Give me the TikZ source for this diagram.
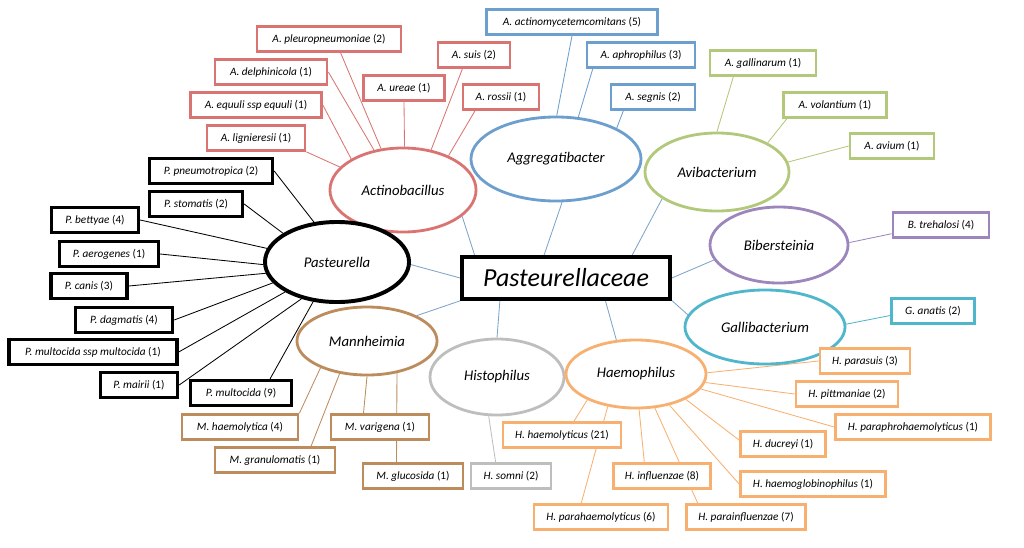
\documentclass[tikz,border=0pt]{standalone}
\usepackage{fontspec}
\setmainfont{Carlito}
\usepackage{tikz}
\usetikzlibrary{shapes.geometric, positioning, calc, backgrounds}

\definecolor{actcol}{RGB}{218,116,114}
\definecolor{aggcol}{RGB}{108,158,206}
\definecolor{avicol}{RGB}{178,200,122}
\definecolor{bibcol}{RGB}{156,134,188}
\definecolor{galcol}{RGB}{80,182,204}
\definecolor{haecol}{RGB}{248,176,112}
\definecolor{hiscol}{RGB}{190,190,190}
\definecolor{mancol}{RGB}{188,140,92}
\definecolor{linkcol}{RGB}{126,164,204}

\begin{document}
\begin{tikzpicture}[
        x=0.025cm, y=-0.025cm,
        wd/.style={minimum width=#1*0.025cm},
        rad/.style 2 args={minimum width=#1*0.05cm, minimum height=#2*0.05cm},
        leaf/.style={rectangle, fill=white, line width=1.9pt, minimum height=0.625cm, inner sep=0pt, font=\fontsize{8}{9}\selectfont},
        genus/.style={ellipse, fill=white, line width=2pt, inner sep=0pt, font=\fontsize{10.5}{12}\selectfont\itshape},
        central/.style={rectangle, draw=black, fill=white, line width=2.5pt, minimum width=5.2cm, minimum height=1.05cm, inner sep=0pt, font=\fontsize{18.5}{20}\selectfont\itshape},
        actleaf/.style={leaf, draw=actcol},
        aggleaf/.style={leaf, draw=aggcol},
        avileaf/.style={leaf, draw=avicol},
        bibleaf/.style={leaf, draw=bibcol},
        galleaf/.style={leaf, draw=galcol},
        haeleaf/.style={leaf, draw=haecol},
        hisleaf/.style={leaf, draw=hiscol},
        manleaf/.style={leaf, draw=mancol},
        pasleaf/.style={leaf, draw=black, line width=2.4pt},
        link/.style={line width=0.6pt}
    ]
    \useasboundingbox (0,0) rectangle (1024,547);

    % 1. Family in the middle
    \node[central] (pac) at (566,278) {Pasteurellaceae};

    % 2. Genera (ellipses)
    \node[genus, draw=actcol, rad={73}{42}] (actino) at (403,190) {Actinobacillus};
    \node[genus, draw=aggcol, rad={85}{42}] (aggreg) at (556,159) {Aggregatibacter};
    \node[genus, draw=avicol, rad={72}{39}] (avib) at (717,172) {Avibacterium};
    \node[genus, draw=black, line width=2.8pt, rad={72}{40}] (past) at (337,262) {Pasteurella};
    \node[genus, draw=mancol, rad={70}{34}] (mann) at (367,341) {Mannheimia};
    \node[genus, draw=hiscol, rad={67}{38}] (hist) at (497,377) {Histophilus};
    \node[genus, draw=haecol, rad={70}{34}] (haem) at (636,374) {Haemophilus};
    \node[genus, draw=galcol, rad={80}{37}] (gall) at (765,327) {Gallibacterium};
    \node[genus, draw=bibcol, rad={69}{38}] (bibe) at (779,245) {Bibersteinia};

    % 3. Species (boxes)
    \node[actleaf, wd=144] (apleuro) at (329,39) {\textit{A. pleuropneumoniae} (2)};
    \node[actleaf, wd=112] (adelph) at (271,72) {\textit{A. delphinicola} (1)};
    \node[actleaf, wd=131] (aequuli) at (256,105) {\textit{A. equuli ssp equuli} (1)};
    \node[actleaf, wd=98] (aligni) at (256,138) {\textit{A. lignieresii} (1)};
    \node[actleaf, wd=81] (aureae) at (404,88) {\textit{A. ureae} (1)};
    \node[actleaf, wd=72] (asuis) at (474,55) {\textit{A. suis} (2)};
    \node[actleaf, wd=76] (arossii) at (501,97) {\textit{A. rossii} (1)};

    \node[aggleaf, wd=171] (aactino) at (572,22) {\textit{A. actinomycetemcomitans} (5)};
    \node[aggleaf, wd=108] (aaphro) at (641,55) {\textit{A. aphrophilus} (3)};
    \node[aggleaf, wd=84] (asegnis) at (653,97) {\textit{A. segnis} (2)};

    \node[avileaf, wd=106] (agallin) at (763,63) {\textit{A. gallinarum} (1)};
    \node[avileaf, wd=103] (avolant) at (835,105) {\textit{A. volantium} (1)};
    \node[avileaf, wd=84] (aavium) at (892,146) {\textit{A. avium} (1)};

    \node[bibleaf, wd=96] (btreh) at (941,225) {\textit{B. trehalosi} (4)};
    \node[galleaf, wd=83] (ganatis) at (933,311) {\textit{G. anatis} (2)};

    \node[pasleaf, wd=123] (ppneumo) at (211,171) {\textit{P. pneumotropica} (2)};
    \node[pasleaf, wd=93] (pstoma) at (196,204) {\textit{P. stomatis} (2)};
    \node[pasleaf, wd=87] (pbetty) at (95,220) {\textit{P. bettyae} (4)};
    \node[pasleaf, wd=99] (paerog) at (109,254) {\textit{P. aerogenes} (1)};
    \node[pasleaf, wd=76] (pcanis) at (89,286) {\textit{P. canis} (3)};
    \node[pasleaf, wd=97] (pdagma) at (124,320) {\textit{P. dagmatis} (4)};
    \node[pasleaf, wd=168] (pmultssp) at (93,352) {\textit{P. multocida ssp multocida} (1)};
    \node[pasleaf, wd=77] (pmairii) at (139,385) {\textit{P. mairii} (1)};
    \node[pasleaf, wd=101] (pmulto) at (241,393) {\textit{P. multocida} (9)};

    \node[manleaf, wd=116] (mhaemo) at (240,427) {\textit{M. haemolytica} (4)};
    \node[manleaf, wd=120] (mgranu) at (275,460) {\textit{M. granulomatis} (1)};
    \node[manleaf, wd=98] (mvarig) at (380,427) {\textit{M. varigena} (1)};
    \node[manleaf, wd=100] (mgluco) at (413,476) {\textit{M. glucosida} (1)};

    \node[hisleaf, wd=80] (hsomni) at (511,476) {\textit{H. somni} (2)};

    \node[haeleaf, wd=90] (hparasuis) at (865,361) {\textit{H. parasuis} (3)};
    \node[haeleaf, wd=102] (hpittm) at (847,394) {\textit{H. pittmaniae} (2)};
    \node[haeleaf, wd=155] (hparaphro) at (913,427) {\textit{H. paraphrohaemolyticus} (1)};
    \node[haeleaf, wd=85] (hducreyi) at (783,444) {\textit{H. ducreyi} (1)};
    \node[haeleaf, wd=145] (hhaemoglo) at (813,484) {\textit{H. haemoglobinophilus} (1)};
    \node[haeleaf, wd=118] (hhaemoly) at (562,435) {\textit{H. haemolyticus} (21)};
    \node[haeleaf, wd=97] (hinflu) at (662,476) {\textit{H. influenzae} (8)};
    \node[haeleaf, wd=134] (hparahaem) at (601,517) {\textit{H. parahaemolyticus} (6)};
    \node[haeleaf, wd=119] (hparainfl) at (746,517) {\textit{H. parainfluenzae} (7)};

    % 4. Connectors, behind the boxes
    \begin{scope}[on background layer]
    % family to genera
    \draw[link, linkcol] (pac.166) -- (actino.-24);
    \draw[link, linkcol] (pac.134) -- (aggreg.-82);
    \draw[link, linkcol] (pac.19) -- (avib.206);
    \draw[link, linkcol] (pac.east) -- (bibe.193);
    \draw[link, linkcol] (pac.-12) -- (gall.171);
    \draw[link, linkcol] (pac.-30) -- (haem.120);
    \draw[link, linkcol] (pac.-161) -- (hist.90);
    \draw[link, linkcol] (pac.west) -- (past.-2);
    \draw[link, linkcol] (pac.south west) -- (mann.27);

    % Actinobacillus
    \draw[link, actcol] (apleuro.-50) -- (actino.118);
    \draw[link, actcol] (adelph.east) -- (actino.126);
    \draw[link, actcol] (aequuli.east) -- (actino.149);
    \draw[link, actcol] (aligni.south east) -- (actino.160);
    \draw[link, actcol] (aureae.south) -- (actino.88);
    \draw[link, actcol] (asuis.-130) -- (actino.55);
    \draw[link, actcol] (arossii.-152) -- (actino.37);

    % Aggregatibacter
    \draw[link, aggcol] (aactino.south) -- (aggreg.89);
    \draw[link, aggcol] (aaphro.-164) -- (aggreg.62);
    \draw[link, aggcol] (asegnis.-155) -- (aggreg.27);

    % Avibacterium
    \draw[link, avicol] (agallin.-155) -- (avib.90);
    \draw[link, avicol] (avolant.-164) -- (avib.30);
    \draw[link, avicol] (aavium.west) -- (avib.8);

    % Bibersteinia and Gallibacterium
    \draw[link, bibcol] (btreh.-170) -- (bibe.2);
    \draw[link, galcol] (ganatis.-174) -- (gall.2);

    % Pasteurella
    \draw[link, black] (ppneumo.east) -- (past.120);
    \draw[link, black] (pstoma.east) -- (past.152);
    \draw[link, black] (pbetty.east) -- (past.169);
    \draw[link, black] (paerog.east) -- (past.182);
    \draw[link, black] (pcanis.east) -- (past.189);
    \draw[link, black] (pdagma.east) -- (past.198);
    \draw[link, black] (pmultssp.east) -- (past.210);
    \draw[link, black] (pmairii.east) -- (past.226);
    \draw[link, black] (pmulto.26) -- (past.239);

    % Mannheimia
    \draw[link, mancol] (mhaemo.13) -- (mann.210);
    \draw[link, mancol] (mgranu.21) -- (mann.230);
    \draw[link, mancol] (mvarig.140) -- (mann.270);
    \draw[link, mancol] (mgluco.140) -- (mann.313);

    % Histophilus
    \draw[link, hiscol] (hsomni.138) -- (hist.258);

    % Haemophilus
    \draw[link, haecol] (hparasuis.west) -- (haem.1);
    \draw[link, haecol] (hpittm.west) -- (haem.-7);
    \draw[link, haecol] (hparaphro.west) -- (haem.-13);
    \draw[link, haecol] (hducreyi.175) -- (haem.-27);
    \draw[link, haecol] (hhaemoglo.west) -- (haem.-43);
    \draw[link, haecol] (hparainfl.164) -- (haem.-61);
    \draw[link, haecol] (hinflu.142) -- (haem.-85);
    \draw[link, haecol] (hparahaem.145) -- (haem.229);
    \draw[link, haecol] (hhaemoly.49) -- (haem.208);
    \end{scope}

\end{tikzpicture}
\end{document}
